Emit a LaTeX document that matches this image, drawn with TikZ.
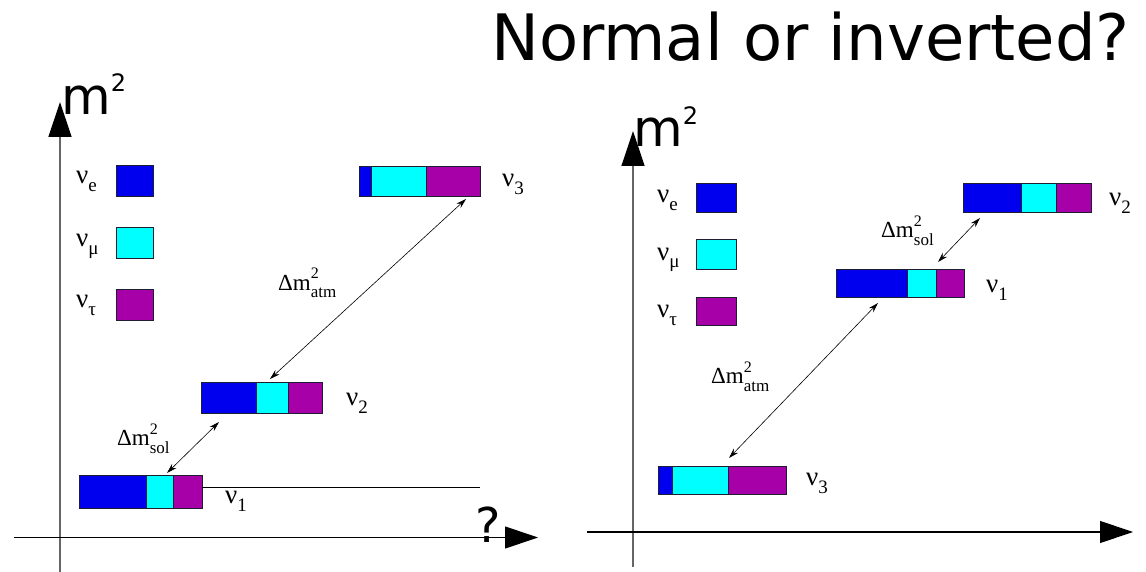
\documentclass[tikz,border=0pt]{standalone}
\usepackage{fontspec}
\setmainfont{Liberation Serif}
\newfontfamily\dejavu{DejaVu Sans}
\usetikzlibrary{arrows.meta}
\definecolor{nblue}{RGB}{0,0,238}
\definecolor{ncyan}{RGB}{0,255,255}
\definecolor{npurple}{RGB}{168,0,168}
\definecolor{nedge}{RGB}{30,30,50}
\newcommand{\nul}[1]{ν\raisebox{-8pt}{\fontsize{19}{19}\selectfont #1}}
\newcommand{\dmsq}[1]{Δm\rlap{\raisebox{11pt}{\fontsize{16}{16}\selectfont 2}}\raisebox{-8pt}{\fontsize{17}{17}\selectfont #1}}
% name, x1, x2, x3, x4, ytop, ybot
\newcommand{\mkbar}[7]{%
  \node[seg,fill=nblue,minimum width={#3pt-#2pt},minimum height={#7pt-#6pt}] (#1e) at (#2,#6) {};
  \node[seg,fill=ncyan,minimum width={#4pt-#3pt},minimum height={#7pt-#6pt}] (#1m) at (#3,#6) {};
  \node[seg,fill=npurple,minimum width={#5pt-#4pt},minimum height={#7pt-#6pt}] (#1t) at (#4,#6) {};
}
\begin{document}
\begin{tikzpicture}[x=1pt,y=-1pt,
  seg/.style={draw=nedge,line width=0.8pt,inner sep=0pt,outer sep=0pt,anchor=north west},
  lab/.style={font=\fontsize{27}{27}\selectfont,inner sep=0pt,anchor=base west},
  dlab/.style={font=\fontsize{23}{23}\selectfont,inner sep=0pt,anchor=base west},
  big/.style={font=\dejavu\fontsize{51}{51}\selectfont,inner sep=0pt,anchor=base west},
  axv/.style={draw=black!60,line width=1.3pt,-{Triangle[length=35pt,width=23pt,color=black]}},
  axh/.style={draw=black,line width=1.1pt,-{Triangle[length=33pt,width=22pt]}},
  gap/.style={draw=black,line width=0.6pt,{Stealth[length=10pt,width=6pt]}-{Stealth[length=10pt,width=6pt]}},
  leg/.style={seg,minimum width=37pt,minimum height=31pt}]
\useasboundingbox (0,0) rectangle (1146,572);

% title
\node[font=\dejavu\fontsize{64}{64}\selectfont,inner sep=0pt,anchor=base west] (title) at (491,61) {Normal or inverted?};

% ===== left panel =====
\coordinate (LyB) at (60,572); \coordinate (LyT) at (60,102);
\coordinate (LxL) at (14,537.5); \coordinate (LxR) at (538,537.5);
\draw[axv] (LyB) -- (LyT);
\draw[axh] (LxL) -- (LxR);
\node[big] (Lm) at (61,115) {m\raisebox{23pt}{\fontsize{24}{24}\selectfont 2}};
\node[font=\dejavu\fontsize{48}{48}\selectfont,inner sep=0pt,anchor=base west] (Lq) at (475,542) {?};

\node[leg,fill=nblue] (Lle) at (116,165) {};
\node[leg,fill=ncyan] (Llm) at (116,227) {};
\node[leg,fill=npurple] (Llt) at (116,289) {};
\node[lab] (Ltle) at (76,184) {\nul{e}};
\node[lab] (Ltlm) at (76,247) {\nul{μ}};
\node[lab] (Ltlt) at (76,307) {\nul{τ}};

\mkbar{L3}{359}{371}{426}{480}{166}{196}
\mkbar{L2}{201}{256}{288}{322}{382}{413}
\mkbar{L1}{79}{146}{173}{202}{475}{508}
\coordinate (L1start) at (202,487); \coordinate (L1end) at (480,487);
\draw[line width=0.8pt] (L1start) -- (L1end);
\node[lab] (Lt3) at (502,187) {\nul{3}};
\node[lab] (Lt2) at (346,405) {\nul{2}};
\node[lab] (Lt1) at (225,503) {\nul{1}};

\coordinate (La1) at (466,199); \coordinate (La2) at (270,379);
\coordinate (Ls1) at (219,422); \coordinate (Ls2) at (167,473);
\draw[gap] (La1) -- (La2);
\draw[gap] (Ls1) -- (Ls2);
\node[dlab] (Lda) at (278,290) {\dmsq{atm}};
\node[dlab] (Lds) at (117,445) {\dmsq{sol}};

% ===== right panel =====
\coordinate (RyB) at (633,567); \coordinate (RyT) at (633,131);
\coordinate (RxL) at (587,532); \coordinate (RxR) at (1133,532);
\draw[axv] (RyB) -- (RyT);
\draw[axh] (RxL) -- (RxR);
\node[big] (Rm) at (633,147) {m\raisebox{22pt}{\fontsize{24}{24}\selectfont 2}};

\node[leg,fill=nblue,minimum width=40pt,minimum height=29pt] (Rle) at (696,183) {};
\node[leg,fill=ncyan,minimum width=40pt,minimum height=30pt] (Rlm) at (696,239) {};
\node[leg,fill=npurple,minimum width=40pt,minimum height=28pt] (Rlt) at (696,297) {};
\node[lab] (Rtle) at (657,203) {\nul{e}};
\node[lab] (Rtlm) at (657,260) {\nul{μ}};
\node[lab] (Rtlt) at (657,317) {\nul{τ}};

\mkbar{R2}{963}{1021}{1056}{1091}{183}{212}
\mkbar{R1}{836}{907}{936}{964}{269}{297}
\mkbar{R3}{658}{672}{728}{786}{466}{494}
\node[lab] (Rt2) at (1109,206) {\nul{2}};
\node[lab] (Rt1) at (986,292) {\nul{1}};
\node[lab] (Rt3) at (806,485) {\nul{3}};

\coordinate (Rs1) at (980,218); \coordinate (Rs2) at (938,262);
\coordinate (Ra1) at (878,303); \coordinate (Ra2) at (729,458);
\draw[gap] (Rs1) -- (Rs2);
\draw[gap] (Ra1) -- (Ra2);
\node[dlab] (Rds) at (881,238) {\dmsq{sol}};
\node[dlab] (Rda) at (711,383) {\dmsq{atm}};
\end{tikzpicture}
\end{document}
